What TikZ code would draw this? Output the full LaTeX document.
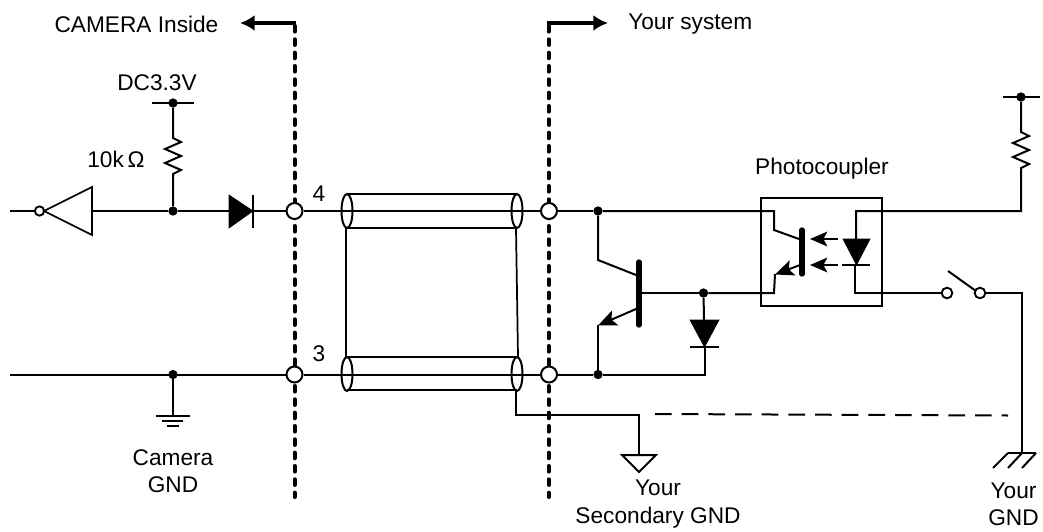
\documentclass[tikz,border=0pt]{standalone}
\usepackage{fontspec}
\setmainfont{Liberation Sans}
\usetikzlibrary{arrows.meta}
\tikzset{
  wire/.style={line width=1.5pt,line join=miter},
  thin wire/.style={line width=1.3pt},
  boundary/.style={line width=3pt,dash pattern=on 4.2pt off 5.8pt,line cap=round},
  flow/.style={line width=3pt,-{Latex[length=11pt,width=12pt]}},
  lbl/.style={font=\fontsize{17pt}{20.5pt}\selectfont,text=black,inner sep=0pt,align=center},
  term/.style={circle,draw,fill=white,line width=1.5pt,minimum size=12pt,inner sep=0pt},
  smallterm/.style={circle,draw,fill=white,line width=1.4pt,minimum size=7pt,inner sep=0pt},
  junction/.style={circle,fill=black,minimum size=7pt,inner sep=0pt},
  solid tri/.style={fill=black,draw=black,line width=.5pt},
  arrowline/.style={line width=1.5pt,-{Stealth[length=14pt,width=12pt,inset=3pt]}},
  lightarrow/.style={line width=1.5pt,-{Stealth[length=13pt,width=11pt,inset=3pt]}},
  shield/.style={line width=1.5pt,fill=none}
}
\begin{document}
\begin{tikzpicture}[x=0.75pt,y=-0.75pt]
\useasboundingbox (0,0) rectangle (1043,532);
% boundaries
\coordinate (b1t) at (294.5,26); \coordinate (b1b) at (294.5,497);
\coordinate (b2t) at (548.5,26); \coordinate (b2b) at (548.5,497);
\node[lbl] (camtxt) at (136.5,24) {CAMERA Inside};
\node[lbl,anchor=west] (systxt) at (628,24) {Your system};
\coordinate (af1) at (240,23); \coordinate (af2) at (608,23);
\draw[boundary] (b1t) -- (b1b);
\draw[boundary] (b2t) -- (b2b);
\draw[flow] (296,23) -- (af1);
\draw[flow] (547,23) -- (af2);
% input
\coordinate (inL) at (10,211);
\node[smallterm] (inv) at (39.5,211) {};
\coordinate (invB) at (92,211);
\node[junction] (j1) at (173,211) {};
\node[junction] (j2) at (173,103) {};
\node[lbl] (dc) at (157,83) {DC3.3V};
\node[lbl] (rk) at (116,159) {10k$\,$Ω};
\coordinate (dcL) at (152,103); \coordinate (dcR) at (194,103);
\coordinate (r1a) at (173,138); \coordinate (r1b) at (173,178);
\node[term] (t4L) at (294.5,211) {};
\node[term] (t3L) at (294.5,374.5) {};
\node[term] (t4R) at (549,211) {};
\node[term] (t3R) at (549,374.5) {};
\node[lbl] (n4) at (319,194) {4};
\node[lbl] (n3) at (319,354) {3};
\draw[wire] (inL) -- (inv);
\draw[wire,line width=1.3pt] (92,187) -- (44,211) -- (92,235) -- cycle;
\draw[wire] (invB) -- (j1);
\draw[wire] (j1) -- (t4L);
\draw[solid tri] (229,195) -- (253,211) -- (229,228) -- cycle;
\draw[wire] (253,195) -- (253,228);
\draw[wire] (dcL) -- (dcR);
\draw[wire] (j2) -- (r1a)
  -- ++(8,4) -- ++(-16,7) -- ++(16,7) -- ++(-16,7) -- ++(16,7) -- ++(-8,4) -- (r1b) -- (j1);
% shield wires
\coordinate (s1L) at (347,211); \coordinate (s1R) at (517,211);
\coordinate (s2L) at (347,374); \coordinate (s2R) at (517,374);
\draw[wire] (t4L) -- (t4R);
\draw[wire] (10,374.5) -- (t3L) -- (t3R);
\draw[shield] (s1L) ellipse [x radius=5.5,y radius=17];
\draw[shield] (s1R) ellipse [x radius=5.5,y radius=17];
\draw[shield] (s2L) ellipse [x radius=5.5,y radius=17];
\draw[shield] (s2R) ellipse [x radius=5.5,y radius=17];
\draw[wire] (347,194) -- (517,194);
\draw[wire] (347,228) -- (516,228);
\draw[wire] (347,357) -- (518,357);
\draw[wire] (347,390) -- (517,390);
\draw[thin wire] (346,228) -- (346,357);
\draw[thin wire] (516,228) -- (518,357);
% camera gnd
\node[junction] (j3) at (173,374.5) {};
\coordinate (cg) at (173,416);
\draw[wire] (j3) -- (cg);
\draw[wire] (156,416) -- (190,416);
\draw[wire] (162,421) -- (183,421);
\draw[wire] (167,426) -- (179,426);
\node[lbl] (camg) at (173,471) {Camera\\GND};
% transistor
\node[junction] (j4) at (598,211) {};
\node[junction] (j5) at (598,374.5) {};
\node[junction] (j6) at (703.5,293) {};
\draw[wire] (t4R) -- (j4);
\draw[wire] (t3R) -- (j5);
\draw[wire] (j4) -- (598,260) -- (636,275);
\draw[line width=4pt,line cap=round] (639,262) -- (639,325);
\draw[arrowline] (636,309) -- (598,325.5);
\draw[wire] (598,325) -- (j5);
\draw[wire] (640,293) -- (j6);
\draw[wire] (j5) -- (705,374.5) -- (705,347);
\draw[wire] (j6) -- (704,320);
\draw[solid tri] (690,320) -- (719,320) -- (704.5,347) -- cycle;
\draw[wire] (690,347) -- (719,347);
% photocoupler
\node[draw,line width=1.6pt,minimum width=90.75pt,minimum height=81pt,inner sep=0pt] (pc) at (821.5,252) {};
\node[lbl] (pctxt) at (822,169) {Photocoupler};
\draw[wire] (j4) -- (774,211) -- (774,230) -- (799,239);
\draw[line width=4pt,line cap=round] (802,230) -- (802,274);
\draw[arrowline] (800,265) -- (775,274.5);
\draw[wire] (775,274) -- (774,293) -- (j6);
\draw[lightarrow] (838,239) -- (810,239);
\draw[lightarrow] (838,265) -- (810,265);
\draw[solid tri] (843,239) -- (870,239) -- (856.5,265) -- cycle;
\draw[wire] (842,265) -- (870,265);
\coordinate (rt) at (1021,132); \coordinate (rb) at (1021,172);
\node[junction] (j7) at (1021,97) {};
\draw[wire] (1003,97) -- (1040,97);
\draw[wire] (j7) -- (rt)
  -- ++(8,4) -- ++(-16,7) -- ++(16,7) -- ++(-16,7) -- ++(16,7) -- ++(-8,4) -- (rb) -- (1021,211) -- (856,211) -- (856,239);
% switch
\node[smallterm,minimum size=8pt] (sw1) at (947,293) {};
\node[smallterm,minimum size=8pt] (sw2) at (980,293) {};
\draw[wire] (855,265) -- (855,293) -- (sw1);
\draw[wire] (948,271) -- (976,291);
\draw[wire] (sw2) -- (1022,293) -- (1022,453);
% grounds
\draw[wire] (516,390) -- (516,415) -- (639,415) -- (639,455);
\draw[wire] (622,455) -- (656,455) -- (639,472) -- cycle;
\draw[line width=1.5pt,dash pattern=on 12.5pt off 7.5pt] (655,414) -- (1008,415.5);
\draw[wire] (1008,453) -- (1036,453);
\draw[wire] (1008,453) -- (993,468);
\draw[wire] (1022,453) -- (1008,468);
\draw[wire] (1036,453) -- (1022,468);
\node[lbl] (ysg) at (658,504) {Your\\Secondary GND};
\node[lbl] (yg) at (1013.5,504) {Your\\GND};
\end{tikzpicture}
\end{document}
